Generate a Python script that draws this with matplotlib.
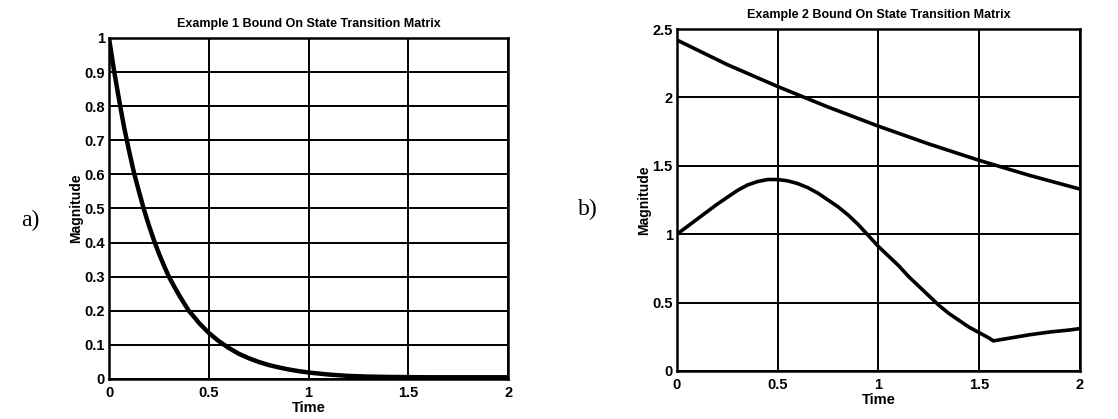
import matplotlib
matplotlib.use("Agg")
import matplotlib.pyplot as plt

plt.rcParams['font.family'] = ['Liberation Sans', 'DejaVu Sans']

# Example 1: bound on the state transition matrix
t1 = [0.0, 0.025, 0.05, 0.075, 0.1, 0.125, 0.15, 0.175, 0.2, 0.225, 0.25,
      0.275, 0.3, 0.325, 0.35, 0.375, 0.4, 0.425, 0.45, 0.475, 0.5, 0.55,
      0.6, 0.65, 0.7, 0.75, 0.8, 0.85, 0.9, 0.95, 1.0, 1.1, 1.2, 1.3, 1.4,
      1.6, 1.8, 2.0]
bound1 = [1.0, 0.905, 0.82, 0.74, 0.67, 0.605, 0.55, 0.497, 0.45, 0.407,
          0.368, 0.333, 0.30, 0.273, 0.247, 0.223, 0.20, 0.183, 0.165, 0.15,
          0.135, 0.111, 0.091, 0.074, 0.061, 0.05, 0.041, 0.034, 0.028,
          0.023, 0.019, 0.013, 0.009, 0.007, 0.006, 0.005, 0.005, 0.005]

# Example 2: two bounds
t2_upper = [0.0, 0.25, 0.5, 0.75, 1.0, 1.25, 1.5, 1.75, 2.0]
bound2_upper = [2.42, 2.24, 2.08, 1.93, 1.79, 1.66, 1.54, 1.43, 1.33]

t2_lower = [0.0, 0.05, 0.1, 0.15, 0.2, 0.25, 0.3, 0.35, 0.4, 0.45, 0.5,
            0.55, 0.6, 0.65, 0.7, 0.75, 0.8, 0.85, 0.9, 0.95, 1.0, 1.05,
            1.1, 1.15, 1.2, 1.25, 1.3, 1.35, 1.4, 1.45, 1.5, 1.55, 1.57,
            1.65, 1.75, 1.85, 1.95, 2.0]
bound2_lower = [1.0, 1.055, 1.11, 1.165, 1.22, 1.27, 1.32, 1.36, 1.385,
                1.40, 1.40, 1.39, 1.37, 1.34, 1.30, 1.25, 1.20, 1.14, 1.07,
                0.99, 0.91, 0.84, 0.77, 0.69, 0.62, 0.55, 0.48, 0.42, 0.37,
                0.32, 0.28, 0.24, 0.22, 0.24, 0.265, 0.285, 0.30, 0.31]

xticks = [0, 0.5, 1, 1.5, 2]
xticklabels = ['0', '0.5', '1', '1.5', '2']
yticks1 = [0, 0.1, 0.2, 0.3, 0.4, 0.5, 0.6, 0.7, 0.8, 0.9, 1]
yticklabels1 = ['0', '0.1', '0.2', '0.3', '0.4', '0.5', '0.6', '0.7', '0.8', '0.9', '1']
yticks2 = [0, 0.5, 1, 1.5, 2, 2.5]
yticklabels2 = ['0', '0.5', '1', '1.5', '2', '2.5']

fig = plt.figure(figsize=(11.18, 4.19), dpi=100)
ax1 = fig.add_axes([0.0975, 0.0955, 0.357, 0.814])
ax2 = fig.add_axes([0.6055, 0.1146, 0.3605, 0.816])


def style(ax, yticks, ylabels, ymax, title):
    ax.set_xlim(0, 2)
    ax.set_ylim(0, ymax)
    ax.set_xticks(xticks)
    ax.set_xticklabels(xticklabels, fontsize=10.5, fontweight='bold')
    ax.set_yticks(yticks)
    ax.set_yticklabels(ylabels, fontsize=10.5, fontweight='bold')
    ax.tick_params(axis='x', length=0, pad=5)
    ax.tick_params(axis='y', length=0, pad=3)
    ax.grid(True, color='black', linewidth=1.4)
    ax.set_axisbelow(True)
    for s in ax.spines.values():
        s.set_linewidth(1.8)
        s.set_color('black')
    ax.set_xlabel('Time', fontsize=10.5, fontweight='bold', labelpad=1)
    ax.set_ylabel('Magnitude', fontsize=10, fontweight='bold', labelpad=1)
    ax.set_title(title, fontsize=9, fontweight='bold', pad=8)


ax1.plot(t1, bound1, color='black', linewidth=3.2, solid_capstyle='butt')
style(ax1, yticks1, yticklabels1, 1, 'Example 1 Bound On State Transition Matrix')

ax2.plot(t2_upper, bound2_upper, color='black', linewidth=2.6)
ax2.plot(t2_lower, bound2_lower, color='black', linewidth=2.6)
style(ax2, yticks2, yticklabels2, 2.5, 'Example 2 Bound On State Transition Matrix')

fig.text(0.019, 0.475, 'a)', fontsize=17, family='Liberation Serif', va='center')
fig.text(0.517, 0.5, 'b)', fontsize=17, family='Liberation Serif', va='center')

fig.savefig('out.png', dpi=100)
